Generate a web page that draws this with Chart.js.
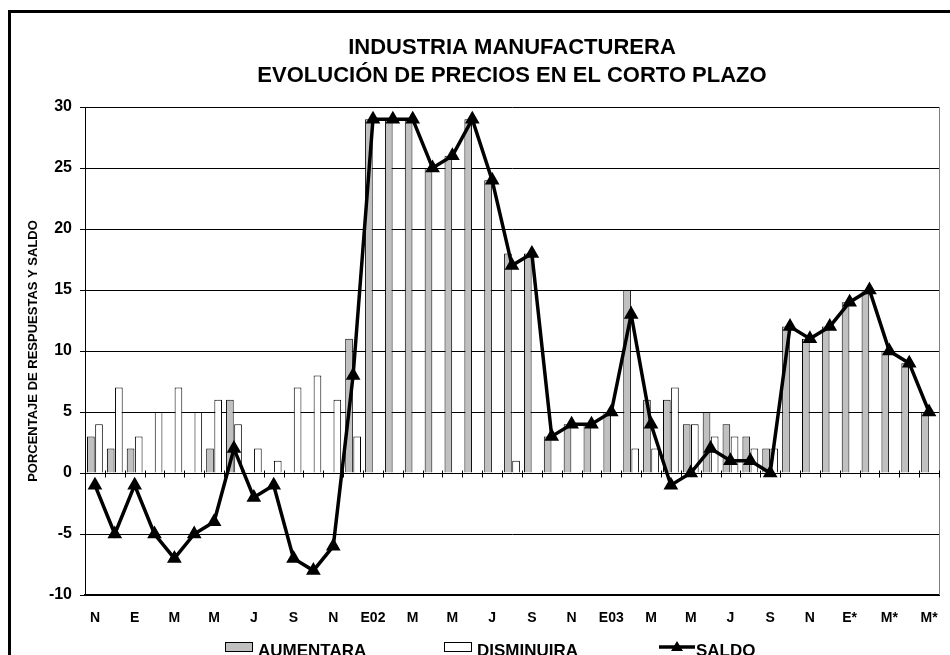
<!DOCTYPE html>
<html>
<head>
<meta charset="utf-8">
<script src="https://cdn.jsdelivr.net/npm/chart.js@4"></script>
<style>
  html, body { margin: 0; padding: 0; background: #fff; overflow: hidden; }
  #frame { position: absolute; left: 8px; top: 10px; width: 1000px; height: 1000px; border: 3px solid #000; }
  #chart { position: absolute; left: 0; top: 0; }
</style>
</head>
<body>
<div id="frame"></div>
<canvas id="chart" width="950" height="655"></canvas>
<script>
// meses nov-2000 .. may-2004 (* = expectativas)
const months = ["N", "D", "E", "F", "M", "A", "M", "J", "J", "A", "S", "O",
  "N", "D", "E02", "F", "M", "A", "M", "J", "J", "A", "S", "O",
  "N", "D", "E03", "F", "M", "A", "M", "J", "J", "A", "S", "O",
  "N", "D", "E*", "F*", "M*", "A*", "M*"];

const aumentara = [3, 2, 2, 0, 0, 0, 2, 6, 0, 0, 0, 0,
  0, 11, 29, 29, 29, 25, 26, 29, 24, 18, 18, 3,
  4, 4, 5, 15, 6, 6, 4, 5, 4, 3, 2, 12,
  11, 12, 14, 15, 10, 9, 5];

const disminuira = [4, 7, 3, 5, 7, 5, 6, 4, 2, 1, 7, 8,
  6, 3, 0, 0, 0, 0, 0, 0, 0, 1, 0, 0,
  0, 0, 0, 2, 2, 7, 4, 3, 3, 2, 2, 0,
  0, 0, 0, 0, 0, 0, 0];

const saldo = [-1, -5, -1, -5, -7, -5, -4, 2, -2, -1, -7, -8,
  -6, 8, 29, 29, 29, 25, 26, 29, 24, 17, 18, 3,
  4, 4, 5, 13, 4, -1, 0, 2, 1, 1, 0, 12,
  11, 12, 14, 15, 10, 9, 5];

const FONT = '"Liberation Sans", Arial, sans-serif';
Chart.defaults.font.family = FONT;
Chart.defaults.color = "#000";

// borde derecho gris y marcas del eje de categorias sobre el cero
const framePlugin = {
  id: "frame",
  beforeDatasetsDraw(chart) {
    const { ctx, chartArea, scales } = chart;
    const y0 = Math.round(scales.y.getPixelForValue(0)) + 0.5;
    const xr = Math.round(chartArea.right) + 0.5;
    ctx.save();
    ctx.lineWidth = 1;
    ctx.strokeStyle = "#808080";
    ctx.beginPath();
    ctx.moveTo(xr, chartArea.top);
    ctx.lineTo(xr, chartArea.bottom);
    ctx.stroke();
    ctx.strokeStyle = "#000";
    ctx.beginPath();
    for (let i = 0; i <= months.length; i++) {
      const px = Math.round(scales.x.getPixelForValue(i - 0.5)) + 0.5;
      ctx.moveTo(px, y0 - 3);
      ctx.lineTo(px, y0 + 4);
    }
    ctx.stroke();
    ctx.restore();
  },
};

// leyenda estilo excel, entradas de ancho fijo
const legendPlugin = {
  id: "excelLegend",
  afterDraw(chart) {
    const ctx = chart.ctx;
    ctx.save();
    ctx.font = "bold 17px " + FONT;
    ctx.textBaseline = "middle";
    chart.data.datasets.forEach((ds, i) => {
      const x = 225 + i * 219;
      const y = 647;
      if (ds.type === "line") {
        ctx.strokeStyle = ds.borderColor;
        ctx.lineWidth = ds.borderWidth;
        ctx.beginPath();
        ctx.moveTo(x - 4, y);
        ctx.lineTo(x + 32, y);
        ctx.stroke();
        ctx.fillStyle = ds.borderColor;
        ctx.beginPath();
        ctx.moveTo(x + 14, y - 6);
        ctx.lineTo(x + 20, y + 4);
        ctx.lineTo(x + 8, y + 4);
        ctx.closePath();
        ctx.fill();
      } else {
        ctx.fillStyle = ds.backgroundColor;
        ctx.fillRect(x, y - 5, 28, 10);
        ctx.strokeStyle = "#000";
        ctx.lineWidth = 1;
        ctx.strokeRect(x + 0.5, y - 4.5, 27, 9);
      }
      ctx.fillStyle = "#000";
      ctx.fillText(ds.label, x + 33, y + 4);
    });
    ctx.restore();
  },
};

new Chart(document.getElementById("chart"), {
  type: "bar",
  data: {
    labels: months,
    datasets: [
      {
        type: "bar",
        label: "AUMENTARA",
        data: aumentara,
        backgroundColor: "#c0c0c0",
        borderColor: "#000",
        borderWidth: 1,
        categoryPercentage: 0.82,
        barPercentage: 0.94,
        order: 2,
      },
      {
        type: "bar",
        label: "DISMINUIRA",
        data: disminuira,
        backgroundColor: "#fff",
        borderColor: "#000",
        borderWidth: 1,
        categoryPercentage: 0.82,
        barPercentage: 0.94,
        order: 2,
      },
      {
        type: "line",
        label: "SALDO",
        data: saldo,
        borderColor: "#000",
        borderWidth: 3.5,
        tension: 0,
        pointStyle: "triangle",
        pointRadius: 5,
        pointBackgroundColor: "#000",
        pointBorderColor: "#000",
        order: 1,
      },
    ],
  },
  options: {
    responsive: false,
    animation: false,
    layout: { padding: { left: 22, right: 11, top: 0, bottom: 26 } },
    plugins: {
      legend: { display: false },
      tooltip: { enabled: false },
      title: {
        display: true,
        fullSize: false,
        text: ["INDUSTRIA MANUFACTURERA", "EVOLUCIÓN DE PRECIOS EN EL CORTO PLAZO"],
        color: "#000",
        font: { size: 22, weight: "bold", lineHeight: 1.273 },
        padding: { top: 34, bottom: 17 },
      },
    },
    scales: {
      x: {
        grid: { display: false, drawTicks: false },
        border: { display: true, color: "#000", width: 2 },
        ticks: {
          autoSkip: false,
          maxRotation: 0,
          padding: 15,
          font: { size: 14, weight: "bold" },
          callback: (value, index) => (index % 2 === 0 ? months[index] : ""),
        },
        afterFit(scale) {
          scale.height = 34;
          scale.paddingLeft = 0;
          scale.paddingRight = 0;
        },
      },
      y: {
        min: -10,
        max: 30,
        ticks: { stepSize: 5, padding: 8, font: { size: 16, weight: "bold" } },
        grid: { color: "#000", tickLength: 5 },
        border: { color: "#000" },
        title: {
          display: true,
          text: "PORCENTAJE DE RESPUESTAS Y SALDO",
          font: { size: 13, weight: "bold" },
          padding: { top: 4, bottom: 4 },
        },
        afterFit(scale) {
          scale.width = 63;
        },
      },
    },
  },
  plugins: [framePlugin, legendPlugin],
});
</script>
</body>
</html>
